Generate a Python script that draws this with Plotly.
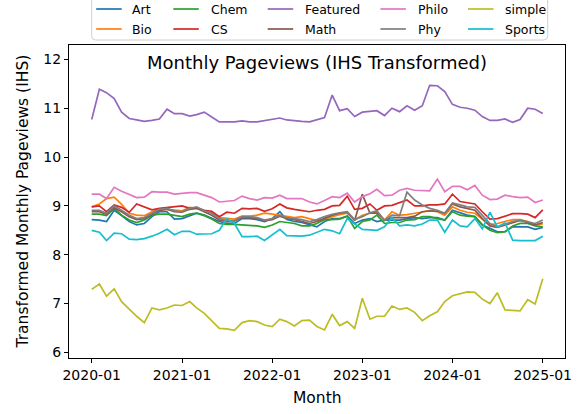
import pandas as pd
import plotly.graph_objects as go

months = pd.date_range("2020-01-01", "2025-01-01", freq="MS")

series_names = ["Art", "Bio", "Chem", "CS", "Featured", "Math", "Philo", "Phy", "simple", "Sports"]
colors = ["#1f77b4", "#ff7f0e", "#2ca02c", "#d62728", "#9467bd",
          "#8c564b", "#e377c2", "#7f7f7f", "#bcbd22", "#17becf"]

art = [8.72, 8.71, 8.68, 8.91, 8.80, 8.68, 8.61, 8.64, 8.78, 8.88, 8.88, 8.73, 8.74, 8.80, 8.85, 8.81, 8.74, 8.68, 8.64, 8.64,
       8.74, 8.74, 8.72, 8.68, 8.74, 8.88, 8.72, 8.68,
       8.66, 8.61, 8.57, 8.68, 8.74, 8.74, 8.79, 8.64, 8.71, 8.74, 8.68, 8.71, 8.71, 8.71, 8.74, 8.76, 8.74, 8.76, 8.76, 8.71,
       8.91, 8.85, 8.81, 8.78, 8.61, 8.54, 8.47, 8.47, 8.57, 8.57, 8.57, 8.52, 8.56]
bio = [8.98, 9.04, 9.15, 9.18, 9.03, 8.85, 8.81, 8.80, 8.88, 8.93, 8.93, 8.91, 8.90, 8.97, 8.95, 8.90, 8.86, 8.76, 8.74, 8.73,
       8.79, 8.79, 8.81, 8.85, 8.83, 8.81, 8.78, 8.76,
       8.78, 8.74, 8.70, 8.72, 8.78, 8.82, 8.85, 8.71, 8.81, 8.85, 8.88, 8.71, 8.88, 8.81, 8.82, 8.85, 8.88, 8.90, 8.88, 8.81,
       8.98, 8.91, 8.87, 8.85, 8.73, 8.61, 8.64, 8.68, 8.72, 8.72, 8.68, 8.61, 8.63]
chem = [8.83, 8.83, 8.80, 8.95, 8.81, 8.71, 8.66, 8.71, 8.81, 8.83, 8.83, 8.80, 8.78, 8.83, 8.85, 8.80, 8.73, 8.64, 8.62, 8.62,
        8.61, 8.59, 8.59, 8.56, 8.61, 8.68, 8.66, 8.64,
        8.59, 8.59, 8.64, 8.72, 8.72, 8.73, 8.79, 8.54, 8.68, 8.71, 8.81, 8.64, 8.66, 8.66, 8.71, 8.72, 8.78, 8.78, 8.74, 8.71,
        8.88, 8.81, 8.79, 8.78, 8.61, 8.50, 8.45, 8.47, 8.59, 8.64, 8.64, 8.59, 8.57]
cs = [8.98, 9.00, 8.88, 9.02, 8.97, 8.87, 9.04, 8.98, 8.92, 8.95, 8.97, 8.99, 9.00, 8.95, 8.96, 8.91, 8.89, 8.78, 8.87, 8.85,
      8.95, 8.94, 8.95, 8.89, 8.94, 9.04, 8.96, 8.93, 8.90, 8.88, 8.91,
      8.93, 9.00, 9.01, 9.20, 8.93, 8.95, 9.04, 8.91, 9.00, 9.01, 9.07, 9.12, 9.00, 9.00, 9.02, 9.02, 9.04, 9.24, 9.09, 9.06,
      9.04, 8.88, 8.73, 8.74, 8.79, 8.84, 8.84, 8.83, 8.76, 8.92]
featured = [10.77, 11.39, 11.32, 11.20, 10.92, 10.79, 10.76, 10.73, 10.75, 10.78, 10.98, 10.89, 10.89, 10.84, 10.87,
            10.92, 10.82, 10.72, 10.72, 10.72, 10.74, 10.72, 10.72, 10.75, 10.78, 10.80, 10.76, 10.74, 10.73, 10.72,
            10.76, 10.81, 11.27, 10.95, 10.99, 10.83, 10.92, 10.94, 10.95, 10.85, 11.00, 10.93, 11.05, 10.96, 11.05,
            11.47, 11.46, 11.34, 11.08, 11.02, 11.00, 10.96, 10.83, 10.75, 10.75, 10.78, 10.71, 10.77, 11.00, 10.98, 10.89]
math_ = [8.88, 8.88, 8.83, 8.96, 8.88, 8.78, 8.72, 8.74, 8.83, 8.91, 8.93, 8.88, 8.87, 8.93, 8.95, 8.88, 8.81, 8.71, 8.68, 8.69,
         8.76, 8.76, 8.74, 8.70, 8.72, 8.79, 8.74, 8.72,
         8.68, 8.64, 8.68, 8.74, 8.81, 8.85, 8.87, 8.70, 9.24, 8.85, 8.85, 8.71, 8.76, 8.76, 8.76, 8.79, 8.88, 8.90, 8.89, 8.85,
         9.04, 8.98, 8.95, 8.91, 8.74, 8.59, 8.56, 8.61, 8.66, 8.70, 8.66, 8.61, 8.66]
philo = [9.24, 9.24, 9.15, 9.38, 9.30, 9.24, 9.17, 9.18, 9.29, 9.28, 9.28, 9.24, 9.26, 9.27, 9.27, 9.22, 9.17, 9.08, 9.09, 9.11,
         9.20, 9.15, 9.12, 9.17, 9.16, 9.22, 9.15, 9.15, 9.15, 9.08, 9.04, 9.11, 9.19, 9.17, 9.26, 9.08, 9.19, 9.25, 9.34,
         9.21, 9.22, 9.32, 9.36, 9.32, 9.32, 9.31, 9.55, 9.29, 9.40, 9.40, 9.33, 9.42, 9.22, 9.13, 9.14, 9.22, 9.19, 9.17,
         9.18, 9.07, 9.12]
phy = [8.91, 8.91, 8.85, 9.00, 8.91, 8.81, 8.74, 8.76, 8.85, 8.93, 8.95, 8.90, 8.88, 8.95, 8.98, 8.90, 8.85, 8.74, 8.70, 8.70,
       8.78, 8.78, 8.76, 8.71, 8.74, 8.81, 8.76, 8.74,
       8.72, 8.68, 8.72, 8.78, 8.83, 8.86, 8.88, 8.72, 8.78, 8.86, 8.90, 8.70, 8.81, 8.80, 9.28, 9.12, 9.02, 8.95, 8.91, 8.85,
       9.06, 9.02, 8.98, 8.97, 8.81, 8.64, 8.57, 8.62, 8.68, 8.71, 8.68, 8.64, 8.71]
simple = [7.29, 7.40, 7.15, 7.30, 7.04, 6.88, 6.74, 6.61, 6.91, 6.87, 6.91, 6.97, 6.96, 7.04, 6.91, 6.80, 6.65, 6.49, 6.48,
          6.45, 6.61, 6.65, 6.63, 6.56, 6.53, 6.68, 6.63, 6.54, 6.65, 6.66, 6.53,
          6.46, 6.78, 6.55, 6.63, 6.49, 7.11, 6.68, 6.74, 6.74, 6.95, 6.88, 6.91, 6.82, 6.65, 6.75, 6.83, 7.04, 7.16, 7.20,
          7.24, 7.23, 7.09, 7.00, 7.22, 6.87, 6.86, 6.85, 7.08, 6.99, 7.51]
sports = [8.50, 8.46, 8.29, 8.44, 8.43, 8.32, 8.31, 8.33, 8.38, 8.44, 8.52, 8.41, 8.48, 8.48, 8.42, 8.42, 8.43, 8.50, 8.74, 8.64,
          8.37, 8.37, 8.38, 8.29, 8.41, 8.52, 8.39, 8.38,
          8.38, 8.40, 8.46, 8.52, 8.49, 8.43, 8.74, 8.63, 8.52, 8.51, 8.50, 8.57, 8.76, 8.59, 8.61, 8.59, 8.63, 8.71, 8.71,
          8.46, 8.71, 8.59, 8.57, 8.74, 8.53, 8.87, 8.57, 8.65, 8.30, 8.29, 8.29, 8.29, 8.38]

all_series = [art, bio, chem, cs, featured, math_, philo, phy, simple, sports]

x_ticks = pd.date_range("2020-01-01", "2025-01-01", freq="YS")
y_ticks = [6, 7, 8, 9, 10, 11, 12]

title_text = "Monthly Pageviews (IHS Transformed)"
x_title = "Month"
y_title = "Transformed Monthly Pageviews (IHS)"

# ---- layout geometry (pixels) ----
W, H = 582, 414
PL, PR, PT, PB = 69, 565, 45, 358

def px(x):
    return (x - PL) / (PR - PL)

def py(y):
    return (PB - y) / (PB - PT)

fig = go.Figure()
for name, vals, col in zip(series_names, all_series, colors):
    fig.add_trace(go.Scatter(x=months, y=vals, mode="lines", name=name,
                             line=dict(color=col, width=1.7), showlegend=False))

font_family = "DejaVu Sans"

axis_common = dict(showgrid=False, zeroline=False, showline=True, mirror=True, linecolor="black", linewidth=1,
                   ticks="outside", ticklen=4, tickwidth=1, tickcolor="black", automargin=False,
                   tickfont=dict(size=14, family=font_family, color="black"))

fig.update_layout(
    width=W, height=H,
    margin=dict(l=PL, r=W - PR, t=PT, b=H - PB, autoexpand=False),
    plot_bgcolor="white", paper_bgcolor="white",
    font=dict(family=font_family, color="black"),
    xaxis=dict(range=["2019-10-01", "2025-04-01"], tickvals=x_ticks, tickformat="%Y-%m", **axis_common),
    yaxis=dict(range=[5.885, 12.295], tickvals=y_ticks, **axis_common),
)

# Title inside the axes
fig.add_annotation(text=title_text, xref="paper", yref="paper",
                   x=px((PL + PR) / 2), y=py(63), showarrow=False, xanchor="center", yanchor="middle",
                   font=dict(size=18, family=font_family, color="black"))
# Axis titles
fig.add_annotation(text=x_title, xref="paper", yref="paper",
                   x=px((PL + PR) / 2), y=py(398), showarrow=False, xanchor="center", yanchor="middle",
                   font=dict(size=15.5, family=font_family, color="black"))
fig.add_annotation(text=y_title, xref="paper", yref="paper", textangle=-90,
                   x=px(22), y=py((PT + PB) / 2), showarrow=False, xanchor="center", yanchor="middle",
                   font=dict(size=15.5, family=font_family, color="black"))

# Manual legend (matplotlib style, 5 columns, column-major order)
bx0, bx1, by0, by1, r = 91.7, 547.7, -5, 40, 4
path = (f"M {px(bx0 + r)},{py(by0)} L {px(bx1 - r)},{py(by0)} Q {px(bx1)},{py(by0)} {px(bx1)},{py(by0 + r)} "
        f"L {px(bx1)},{py(by1 - r)} Q {px(bx1)},{py(by1)} {px(bx1 - r)},{py(by1)} "
        f"L {px(bx0 + r)},{py(by1)} Q {px(bx0)},{py(by1)} {px(bx0)},{py(by1 - r)} "
        f"L {px(bx0)},{py(by0 + r)} Q {px(bx0)},{py(by0)} {px(bx0 + r)},{py(by0)} Z")
fig.add_shape(type="path", path=path, xref="paper", yref="paper",
              line=dict(color="#d0d0d0", width=1), fillcolor="rgba(255,255,255,0.8)", layer="above")

col_line_x = [96.2, 173.3, 267.7, 380.4, 468.0]
col_text_x = [130.3, 208.5, 302.5, 415.6, 502.8]
row_y = [9, 29]
for k, (name, col) in enumerate(zip(series_names, colors)):
    c, rr = k // 2, k % 2
    yy = row_y[rr]
    fig.add_shape(type="line", xref="paper", yref="paper",
                  x0=px(col_line_x[c]), x1=px(col_line_x[c] + 25.5), y0=py(yy), y1=py(yy),
                  line=dict(color=col, width=1.7), layer="above")
    fig.add_annotation(text=name, xref="paper", yref="paper", x=px(col_text_x[c]), y=py(yy),
                       showarrow=False, xanchor="left", yanchor="middle",
                       font=dict(size=12.5, family=font_family, color="black"))

fig.write_html("out.html", config={"displayModeBar": False},
               post_script="document.body.style.margin='0';")
